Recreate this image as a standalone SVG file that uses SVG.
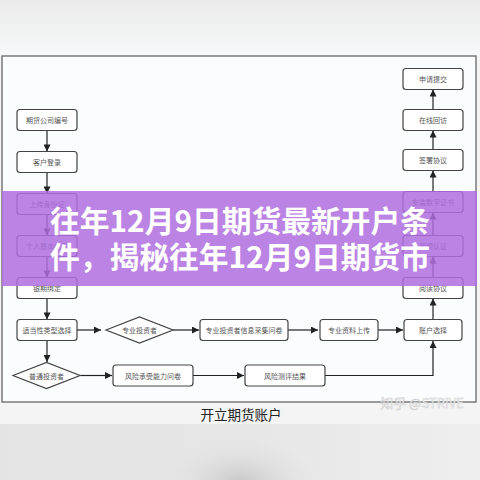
<svg xmlns="http://www.w3.org/2000/svg" width="480" height="480" viewBox="0 0 480 480">
<defs>
<linearGradient id="topbg" x1="0" y1="0" x2="0" y2="1">
<stop offset="0" stop-color="#ebebeb"/>
<stop offset="1" stop-color="#f7f8f9"/>
</linearGradient>
<linearGradient id="botbg" x1="0" y1="0" x2="1" y2="0">
<stop offset="0" stop-color="#e4e4e4"/>
<stop offset="0.5" stop-color="#e6e6e6"/>
<stop offset="1" stop-color="#eeeeee"/>
</linearGradient>
<radialGradient id="blob" cx="0.5" cy="0.5" r="0.5">
<stop offset="0" stop-color="#c8c8c8"/>
<stop offset="1" stop-color="#e4e4e4" stop-opacity="0"/>
</radialGradient>
<marker id="ah" viewBox="0 0 10 10" refX="10" refY="5" markerWidth="8" markerHeight="7" markerUnits="userSpaceOnUse" orient="auto">
<path d="M0,0 L10,5 L0,10 z" fill="#222"/>
</marker>
<style>
.box{fill:#ffffff;stroke:#444;stroke-width:1.2}
.dia{fill:#ffffff;stroke:#444;stroke-width:1.2}
.lbl{font-family:"Noto Sans CJK SC","Noto Sans",sans-serif;font-size:7px;fill:#555;text-anchor:middle;dominant-baseline:central}
.conn{stroke:#222;stroke-width:1.2;fill:none}
.ban{font-family:"Noto Sans CJK SC","Noto Sans",sans-serif;font-size:30px;font-weight:700;fill:#ffffff;text-anchor:middle}
</style>
</defs>
<rect x="0" y="0" width="480" height="480" fill="#f4f4f4"/>
<rect x="0" y="0" width="480" height="56" fill="url(#topbg)"/>
<rect x="0" y="424" width="480" height="56" fill="url(#botbg)"/>
<ellipse cx="240" cy="482" rx="80" ry="45" fill="url(#blob)"/>
<rect x="2" y="56" width="474" height="346" fill="#fbfcfd" stroke="#666" stroke-width="1.3"/>

<g id="connectors">
<line class="conn" x1="47" y1="131" x2="47" y2="151.5" marker-end="url(#ah)"/>
<line class="conn" x1="47" y1="173" x2="47" y2="193.5" marker-end="url(#ah)"/>
<line class="conn" x1="47" y1="214.5" x2="47" y2="235.5" marker-end="url(#ah)"/>
<line class="conn" x1="47" y1="256.5" x2="47" y2="277.5" marker-end="url(#ah)"/>
<line class="conn" x1="47" y1="298.5" x2="47" y2="319.5" marker-end="url(#ah)"/>
<line class="conn" x1="47" y1="340.5" x2="47" y2="362" marker-end="url(#ah)"/>
<line class="conn" x1="77" y1="330" x2="101" y2="330" marker-end="url(#ah)"/>
<line class="conn" x1="173" y1="330" x2="199" y2="330" marker-end="url(#ah)"/>
<line class="conn" x1="288" y1="330" x2="318" y2="330" marker-end="url(#ah)"/>
<line class="conn" x1="378" y1="330" x2="403" y2="330" marker-end="url(#ah)"/>
<line class="conn" x1="80" y1="375.5" x2="112" y2="375.5" marker-end="url(#ah)"/>
<line class="conn" x1="193" y1="375.5" x2="244" y2="375.5" marker-end="url(#ah)"/>
<polyline class="conn" points="325,375.5 433,375.5 433,341" marker-end="url(#ah)"/>
<line class="conn" x1="433" y1="319.5" x2="433" y2="298.5" marker-end="url(#ah)"/>
<line class="conn" x1="433" y1="277.5" x2="433" y2="256.5" marker-end="url(#ah)"/>
<line class="conn" x1="433" y1="235.5" x2="433" y2="212.5" marker-end="url(#ah)"/>
<line class="conn" x1="433" y1="191.5" x2="433" y2="170.5" marker-end="url(#ah)"/>
<line class="conn" x1="433" y1="149.5" x2="433" y2="130.5" marker-end="url(#ah)"/>
<line class="conn" x1="433" y1="109.5" x2="433" y2="89.5" marker-end="url(#ah)"/>
</g>

<g id="n-qihuo"><rect class="box" x="17" y="109.5" width="60" height="21" rx="3"/><text class="lbl" x="47" y="120">期货公司编号</text></g>
<g id="n-denglu"><rect class="box" x="17" y="151.5" width="60" height="21" rx="3"/><text class="lbl" x="47" y="162">客户登录</text></g>
<g id="n-sfz"><rect class="box" x="17" y="193.5" width="60" height="21" rx="3"/><text class="lbl" x="47" y="204">上传身份证</text></g>
<g id="n-xinxi"><rect class="box" x="17" y="235.5" width="60" height="21" rx="3"/><text class="lbl" x="47" y="246">个人基本信息</text></g>
<g id="n-yinqi"><rect class="box" x="17" y="277.5" width="60" height="21" rx="3"/><text class="lbl" x="47" y="288">银期绑定</text></g>
<g id="n-shidang"><rect class="box" x="17" y="319.5" width="60" height="21" rx="3"/><text class="lbl" x="47" y="330">适当性类型选择</text></g>
<g id="n-zhuanye"><polygon class="dia" points="106,330 139.5,317 173,330 139.5,343"/><text class="lbl" x="139.5" y="330">专业投资者</text></g>
<g id="n-wenjuan1"><rect class="box" x="200" y="319.5" width="88" height="21" rx="3"/><text class="lbl" x="244" y="330">专业投资者信息采集问卷</text></g>
<g id="n-ziliao"><rect class="box" x="320" y="319.5" width="58" height="21" rx="3"/><text class="lbl" x="349" y="330">专业资料上传</text></g>
<g id="n-zhanghu"><rect class="box" x="404" y="319.5" width="58" height="21" rx="3"/><text class="lbl" x="433" y="330">账户选择</text></g>
<g id="n-putong"><polygon class="dia" points="13,375.5 46.5,362.5 80,375.5 46.5,388.5"/><text class="lbl" x="46.5" y="375.5">普通投资者</text></g>
<g id="n-fengxian"><rect class="box" x="113" y="365" width="80" height="21" rx="3"/><text class="lbl" x="153" y="375.5">风险承受能力问卷</text></g>
<g id="n-cepping"><rect class="box" x="245" y="365" width="80" height="21" rx="3"/><text class="lbl" x="285" y="375.5">风险测评结果</text></g>
<g id="n-yuedu"><rect class="box" x="403" y="277.5" width="60" height="21" rx="3"/><text class="lbl" x="433" y="288">阅读协议</text></g>
<g id="n-shipin"><rect class="box" x="403" y="235.5" width="60" height="21" rx="3"/><text class="lbl" x="433" y="246">视频认证</text></g>
<g id="n-zhengshu"><rect class="box" x="403" y="191.5" width="60" height="21" rx="3"/><text class="lbl" x="433" y="202">安装数字证书</text></g>
<g id="n-qianshu"><rect class="box" x="403" y="149.5" width="60" height="21" rx="3"/><text class="lbl" x="433" y="160">签署协议</text></g>
<g id="n-huifang"><rect class="box" x="403" y="109.5" width="60" height="21" rx="3"/><text class="lbl" x="433" y="120">在线回访</text></g>
<g id="n-tijiao"><rect class="box" x="403" y="68.5" width="60" height="21" rx="3"/><text class="lbl" x="433" y="79">申请提交</text></g>

<text x="241" y="420" font-family="'Noto Sans CJK SC','Noto Sans',sans-serif" font-size="13.5" fill="#222" text-anchor="middle">开立期货账户</text>
<text x="422" y="408" font-family="'Noto Sans CJK SC','Noto Sans',sans-serif" font-size="13" fill="#ffffff" stroke="#c8c8c8" stroke-width="0.5" text-anchor="middle" opacity="0.9">知乎 @STRIVE</text>

<g id="banner">
<rect x="2" y="191" width="475" height="95" fill="#ae6ddf" fill-opacity="0.85"/>
<text class="ban" x="240" y="232" textLength="380" lengthAdjust="spacingAndGlyphs">往年12月9日期货最新开户条</text>
<text class="ban" x="240" y="268" textLength="380" lengthAdjust="spacingAndGlyphs">件，揭秘往年12月9日期货市</text>
</g>
</svg>
